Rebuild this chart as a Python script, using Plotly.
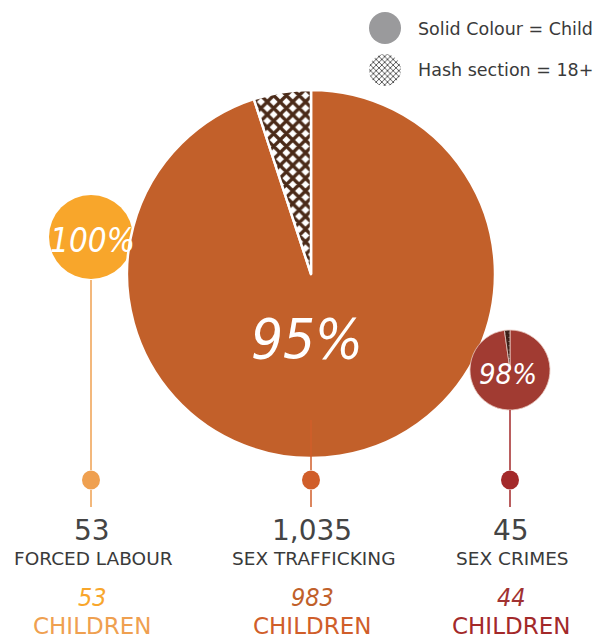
import plotly.graph_objects as go

# ---- data ----
categories = ["FORCED LABOUR", "SEX TRAFFICKING", "SEX CRIMES"]
totals = [53, 1035, 45]
children = [53, 983, 44]
total_labels = ["53", "1,035", "45"]
legend_labels = ["Solid Colour = Child", "Hash section = 18+"]

# ---- styling / layout (not data) ----
W, H = 604, 637
pie_colors = ["#F8A62B", "#C2602A", "#A13B32"]
hash_colors = ["#4A2A18", "#4A2A18", "#3A1E16"]
dot_colors = ["#EFA050", "#D05E2A", "#A3292A"]
text_colors = ["#EFA050", "#D05E2A", "#A3292A"]
num_colors = ["#F8A62B", "#C0602A", "#A13232"]
centers = [(91, 237, 42), (311, 274, 184), (510, 370, 40)]
col_x = [91, 311, 510]
pct_pos = [(92, 240, 33), (307, 338, 56), (508, 374, 29)]
line_top = [280, 420, 410]
DOT_Y = 480
SANS = "DejaVu Sans"
HAND = "DejaVu Sans Condensed"


def px(x):
    return x / W


def py(y):
    return 1 - y / H


fig = go.Figure()

for i in [0, 1, 2]:
    cx, cy, r = centers[i]
    adults = totals[i] - children[i]
    if i == 1:
        line = dict(color="white", width=2.5)
        pattern = dict(shape=["", "x"], fgcolor=hash_colors[i], size=9, solidity=0.6)
    elif adults == 0:
        line = dict(color=pie_colors[i], width=0)
        pattern = dict(shape=["", ""])
    else:
        line = dict(color="#E9C9C0", width=0.8)
        pattern = dict(shape=["", "x"], fgcolor=hash_colors[i], size=3, solidity=0.95)
    fig.add_trace(go.Pie(
        values=[children[i], adults],
        labels=["Child", "18+"],
        sort=False,
        direction="clockwise",
        rotation=0,
        textinfo="none",
        hoverinfo="label+value",
        showlegend=False,
        domain=dict(x=[px(cx - r), px(cx + r)], y=[py(cy + r), py(cy - r)]),
        marker=dict(colors=[pie_colors[i], pie_colors[i]], line=line, pattern=pattern),
    ))

# legend circles
fig.add_trace(go.Pie(values=[1], labels=["Child"], textinfo="none", showlegend=False,
                     hoverinfo="skip", sort=False,
                     domain=dict(x=[px(369), px(401)], y=[py(44), py(12)]),
                     marker=dict(colors=["#9A9A9C"], line=dict(width=0))))
fig.add_trace(go.Pie(values=[1], labels=["18+"], textinfo="none", showlegend=False,
                     hoverinfo="skip", sort=False,
                     domain=dict(x=[px(369), px(401)], y=[py(86), py(54)]),
                     marker=dict(colors=["#8A8A8C"], line=dict(width=0),
                                 pattern=dict(shape="x", fgcolor="#4a4a4a", size=4, solidity=0.4))))

shapes = []
annotations = []
for i in range(3):
    x = col_x[i]
    shapes.append(dict(type="line", xref="paper", yref="paper", layer="above",
                       x0=px(x), x1=px(x), y0=py(line_top[i]), y1=py(DOT_Y - 10),
                       line=dict(color=dot_colors[i], width=1.5)))
    shapes.append(dict(type="line", xref="paper", yref="paper", layer="above",
                       x0=px(x), x1=px(x), y0=py(DOT_Y + 10), y1=py(DOT_Y + 27),
                       line=dict(color=dot_colors[i], width=1.5)))
    shapes.append(dict(type="circle", xref="paper", yref="paper", layer="above",
                       x0=px(x - 9), x1=px(x + 9), y0=py(DOT_Y + 9.5), y1=py(DOT_Y - 9.5),
                       fillcolor=dot_colors[i], line=dict(width=0)))

    pct = round(100 * children[i] / totals[i])
    ax, ay, fs = pct_pos[i]
    annotations.append(dict(text=f"<i>{pct}%</i>", x=px(ax), y=py(ay), xref="paper", yref="paper",
                            showarrow=False, xanchor="center", yanchor="middle",
                            font=dict(family=HAND, size=fs, color="white")))
    annotations.append(dict(text=total_labels[i], x=px(x + 1), y=py(530), xref="paper", yref="paper",
                            showarrow=False, xanchor="center", yanchor="middle",
                            font=dict(family=SANS, size=28, color="#444444")))
    annotations.append(dict(text=categories[i], x=px(x + 2), y=py(558), xref="paper", yref="paper",
                            showarrow=False, xanchor="center", yanchor="middle",
                            font=dict(family=SANS, size=18.5, color="#3a3a3a")))
    annotations.append(dict(text=f"<i>{children[i]}</i>", x=px(x + 1), y=py(597), xref="paper", yref="paper",
                            showarrow=False, xanchor="center", yanchor="middle",
                            font=dict(family=HAND, size=25, color=num_colors[i])))
    annotations.append(dict(text="CHILDREN", x=px(x + 1), y=py(626), xref="paper", yref="paper",
                            showarrow=False, xanchor="center", yanchor="middle",
                            font=dict(family=SANS, size=23, color=text_colors[i])))

for j, lab in enumerate(legend_labels):
    annotations.append(dict(text=lab, x=px(416), y=py(29 + 41 * j), xref="paper", yref="paper",
                            showarrow=False, xanchor="left", yanchor="middle",
                            font=dict(family=SANS, size=17.5, color="#3a3a3a")))

fig.update_layout(
    width=W, height=H,
    margin=dict(l=0, r=0, t=0, b=0),
    paper_bgcolor="white", plot_bgcolor="white",
    shapes=shapes, annotations=annotations,
    showlegend=False,
)

fig.write_html("out.html", config={"displayModeBar": False},
               post_script="document.body.style.margin='0';document.body.style.overflow='hidden';")
